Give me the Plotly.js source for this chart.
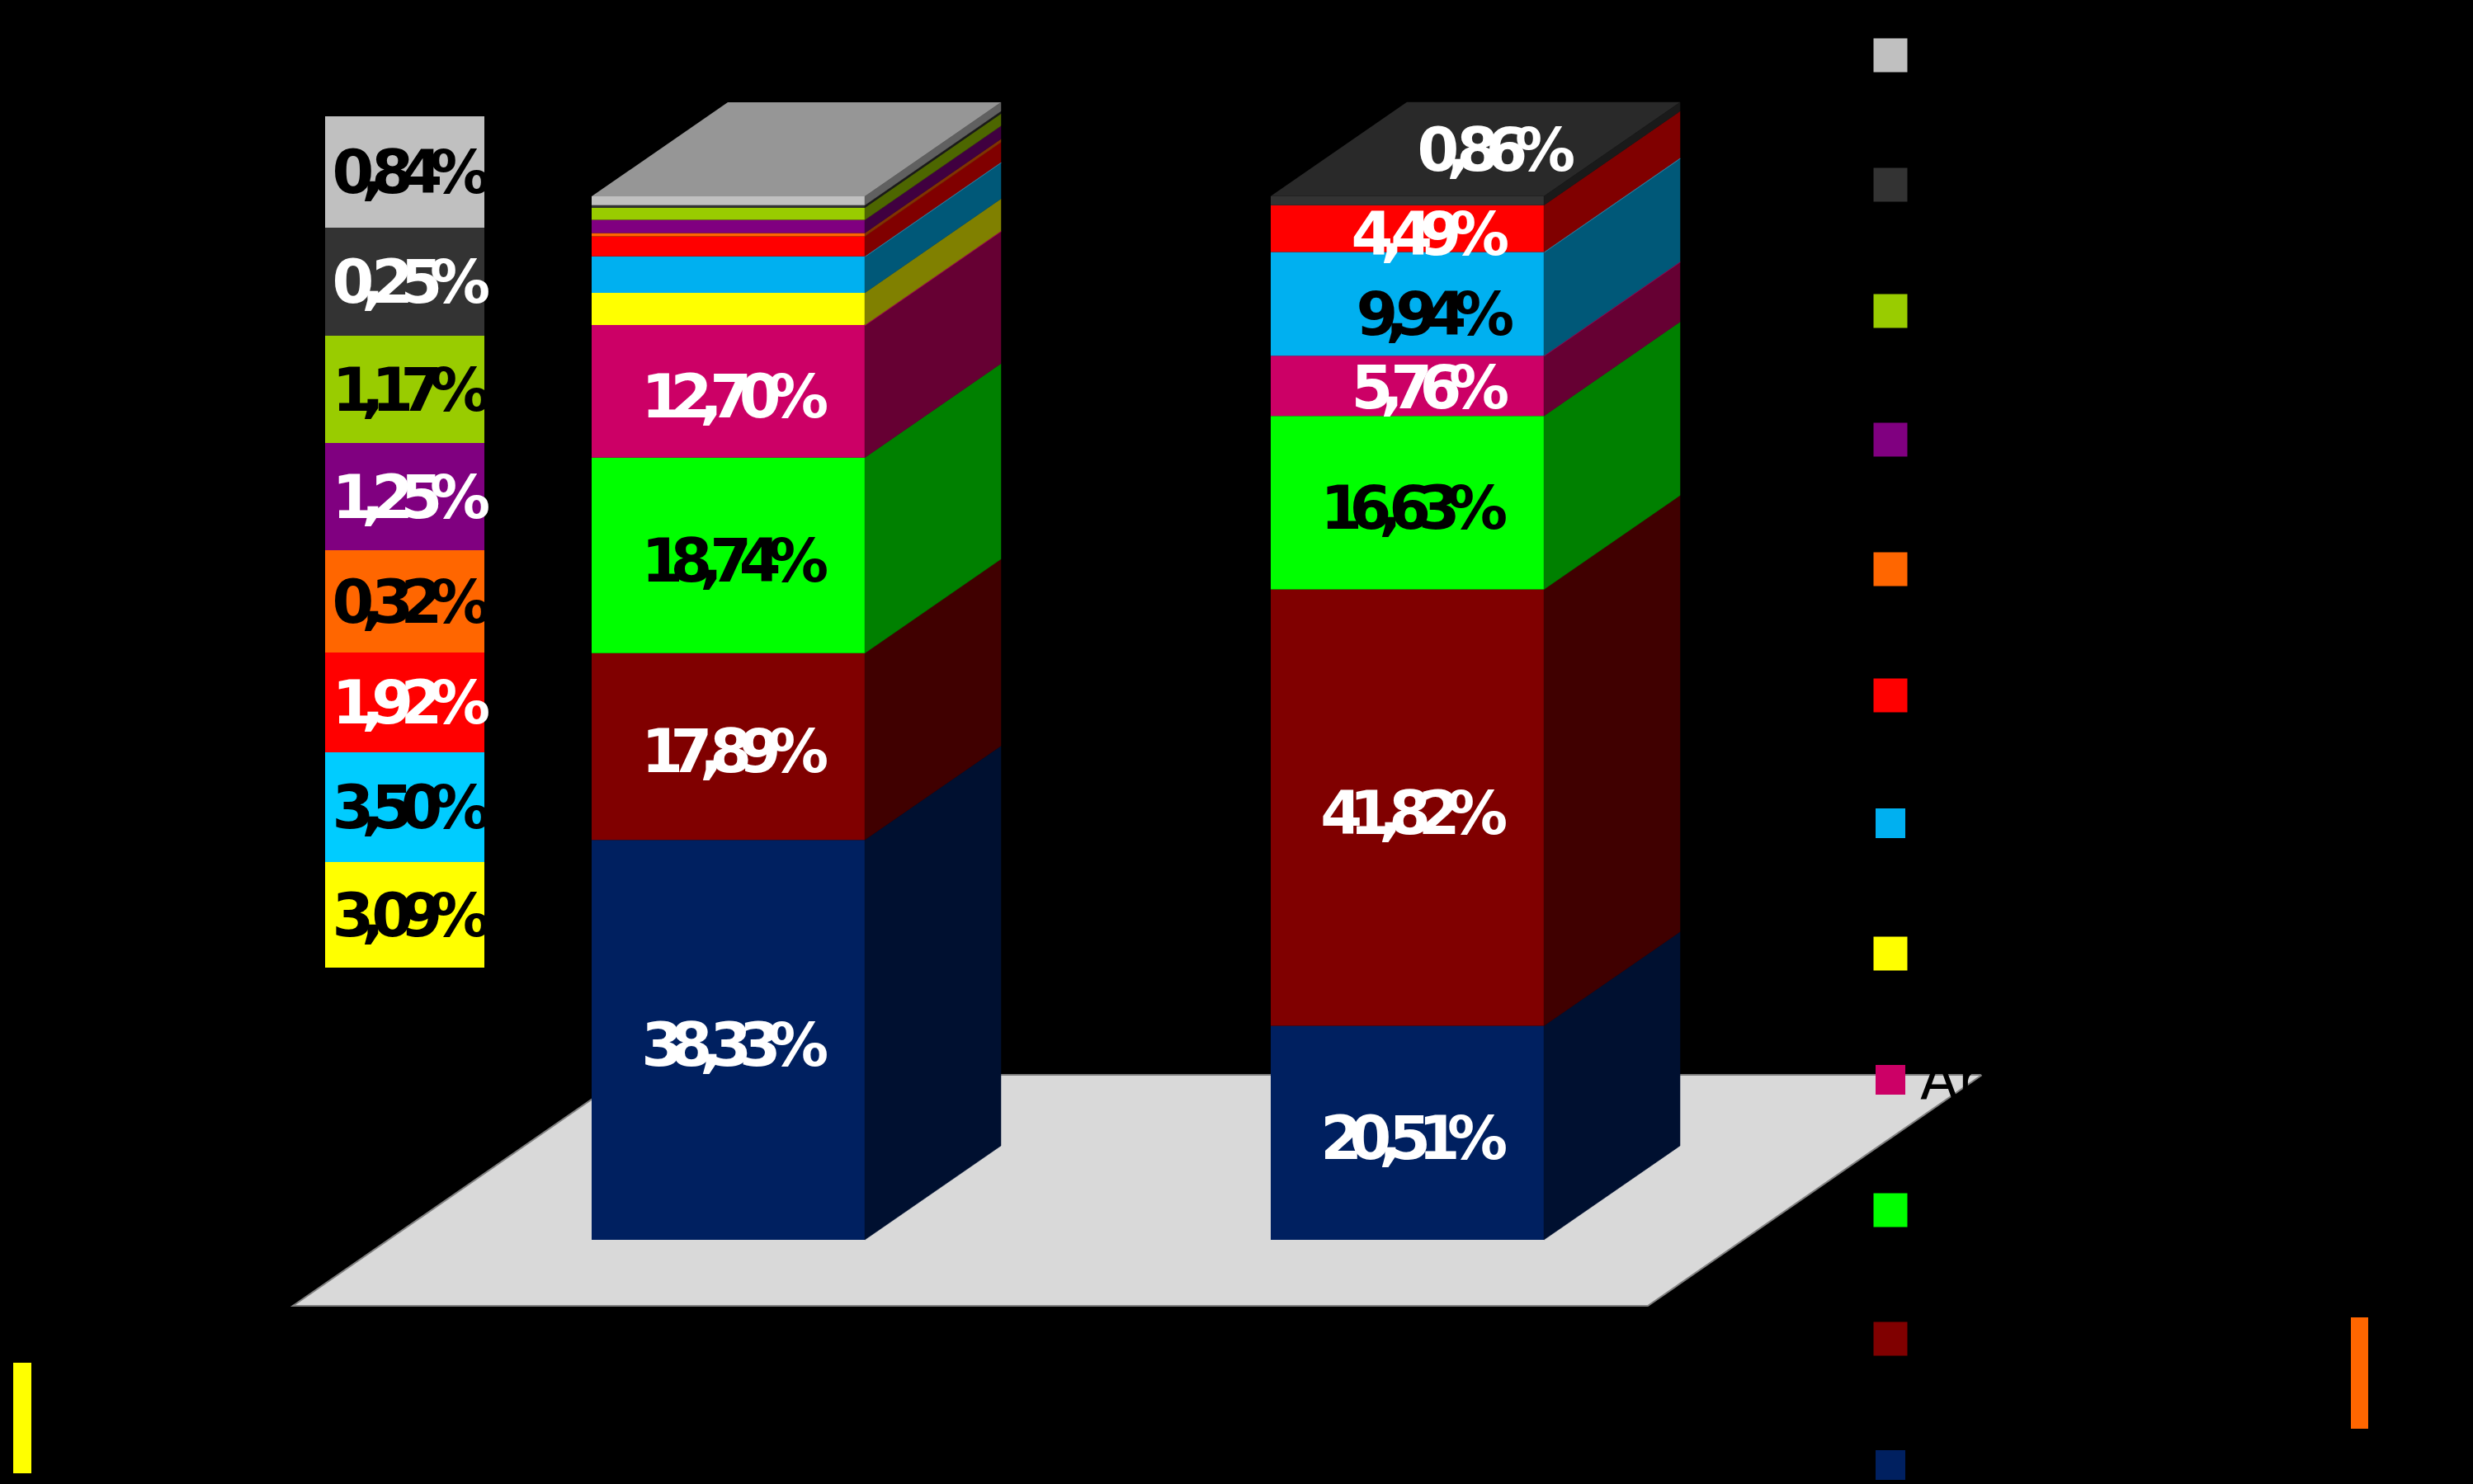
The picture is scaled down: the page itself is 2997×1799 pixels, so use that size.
<!DOCTYPE html>
<html>
<head>
<meta charset="utf-8">
<script src="https://cdn.plot.ly/plotly-3.0.1.min.js"></script>
<style>
html,body{margin:0;padding:0;background:#000;overflow:hidden}
.annotation text.annotation-text{letter-spacing:-15.4px}
</style>
</head>
<body>
<div id="chart" style="width:2997px;height:1799px"></div>
<script>
// ---------- data (bottom of the stack to the top) ----------
const barsX = [1, 2];
const bar1Values = [38.33, 17.89, 18.74, 12.70, 3.09, 3.50, 1.92, 0.32, 1.25, 1.17, 0.25, 0.84];
const bar2Values = [20.51, 41.82, 16.63, 5.76, 0, 9.94, 4.49, 0, 0, 0, 0.86, 0];
const frontColors = ['#002060','#800000','#00FF00','#CC0066','#FFFF00','#00B0F0','#FF0000','#FF6600','#800080','#99CC00','#333333','#C0C0C0'];
const sideColors  = ['#001030','#400000','#008000','#660033','#808000','#005878','#800000','#803300','#400040','#4D6600','#1A1A1A','#606060'];
const sideEdgeColors = [null,null,null,'#99004D',null,'#2A90B5',null,null,null,null,null,null];
const labelColors = ['#FFFFFF','#FFFFFF','#000000','#FFFFFF','#000000','#000000','#FFFFFF','#000000','#FFFFFF','#000000','#FFFFFF','#000000'];
// breakdown column: which series it repeats, bottom to top, and its colours
const tableSeries = [4, 5, 6, 7, 8, 9, 10, 11];
const tableColors = ['#FFFF00','#00CCFF','#FF0000','#FF6600','#800080','#99CC00','#333333','#C0C0C0'];
const tableEdgesPx = [1173, 1045, 912, 791, 667, 537, 407, 276, 141];
const legendCentersPx = [1776, 1623, 1467, 1309, 1156, 998, 843, 690, 533, 377, 224, 67];
const legendSizes = [36, 41, 41, 36, 41, 36, 41, 41, 41, 41, 41, 41];
const legendText = 'An';

// ---------- scale constants ----------
const pxPerX = 823, pxPerPct = 12.65, x0 = 1 - 882.5 / pxPerX, zeroPx = 1503;
const X = p => x0 + p / pxPerX;
const Y = p => (zeroPx - p) / pxPerPct;
const W = 2997, H = 1799;
const barWidth = 331 / pxPerX, depthX = 165 / pxPerX, depthY = 114 / pxPerPct;
const tableX = X(490.5), tableW = 193 / pxPerX;

const traces = [], annotations = [];
const font = c => ({family: 'DejaVu Sans', size: 73, weight: 700, color: c});
const label = (x, y, txt, c) => annotations.push({x, y, text: txt, showarrow: false, xanchor: 'center', yanchor: 'middle', font: font(c)});
const fmt = v => v.toFixed(2).replace('.', ',') + '%';

// cumulative bases for the two bars
const base = [[], []];
[bar1Values, bar2Values].forEach((vals, b) => {
  let s = 0;
  vals.forEach((v, i) => { base[b][i] = s; s += v; });
});

// front faces
frontColors.forEach((c, i) => {
  traces.push({type: 'bar', x: barsX, y: [bar1Values[i], bar2Values[i]], base: [base[0][i], base[1][i]],
    width: barWidth, marker: {color: c, line: {width: 0}}, hoverinfo: 'skip'});
});

// side faces, offset from the same values
[bar1Values, bar2Values].forEach((vals, b) => {
  const xr = barsX[b] + barWidth / 2;
  vals.forEach((v, i) => {
    if (!v) return;
    const y0 = base[b][i], y1 = y0 + v;
    traces.push({type: 'scatter', mode: 'lines', x: [xr, xr + depthX, xr + depthX, xr, xr],
      y: [y0, y0 + depthY, y1 + depthY, y1, y0], fill: 'toself', fillcolor: sideColors[i],
      line: {width: 0.5, color: sideColors[i]}, hoverinfo: 'skip'});
    if (sideEdgeColors[i]) {
      traces.push({type: 'scatter', mode: 'lines', x: [xr, xr + depthX], y: [y1, y1 + depthY],
        line: {width: 2, color: sideEdgeColors[i]}, hoverinfo: 'skip'});
    }
  });
  // top face
  const total = vals.reduce((a, v) => a + v, 0);
  const xl = barsX[b] - barWidth / 2;
  traces.push({type: 'scatter', mode: 'lines', x: [xl, xr, xr + depthX, xl + depthX, xl],
    y: [total, total, total + depthY, total + depthY, total], fill: 'toself',
    fillcolor: b === 0 ? '#969696' : '#292929', line: {width: 0}, hoverinfo: 'skip'});
});

// breakdown column
traces.push({type: 'bar', x: tableColors.map(() => tableX),
  base: tableColors.map((_, i) => Y(tableEdgesPx[i])),
  y: tableColors.map((_, i) => Y(tableEdgesPx[i + 1]) - Y(tableEdgesPx[i])),
  width: tableW, marker: {color: tableColors, line: {width: 0}}, hoverinfo: 'skip'});

// legend swatches
traces.push({type: 'scatter', mode: 'markers', x: legendCentersPx.map(() => X(2291)), y: legendCentersPx.map(Y),
  marker: {symbol: 'square', size: legendSizes, color: frontColors, opacity: 1, line: {width: 0}}, hoverinfo: 'skip'});

// labels on the bars
const labelShiftPx = 6;
bar1Values.forEach((v, i) => {
  if (i < 4) label(barsX[0], base[0][i] + v / 2 - labelShiftPx / pxPerPct, fmt(v), labelColors[i]);
});
bar2Values.forEach((v, i) => {
  if (!v) return;
  let dx = 0, dy = -labelShiftPx / pxPerPct;
  if (i === 10) { dx = 100 / pxPerX; dy = 62 / pxPerPct; }
  if (i === 6) dx = 20 / pxPerX;
  if (i === 3) { dx = 20 / pxPerX; dy = -2 / pxPerPct; }
  if (i === 5) { dx = 26 / pxPerX; dy = -12 / pxPerPct; }
  label(barsX[1] + dx, base[1][i] + v / 2 + dy, fmt(v), labelColors[i]);
});
// labels on the breakdown column
tableSeries.forEach((s, i) => {
  const yMid = (Y(tableEdgesPx[i]) + Y(tableEdgesPx[i + 1])) / 2;
  label(tableX, yMid, fmt(bar1Values[s]), labelColors[s]);
});
// the one legend word that shows, black over the floor
annotations.push({x: X(2325), y: Y(1310), text: legendText, showarrow: false, xanchor: 'left', yanchor: 'middle',
  font: {family: 'DejaVu Sans', size: 67, color: '#000000'}});

// floor and two accent strips
const floorPath = [[355,1583],[1997,1583],[2402,1303],[760,1303]].map((p, i) => (i ? 'L' : 'M') + X(p[0]) + ',' + Y(p[1])).join(' ') + ' Z';
const rect = (a, b, c, d, col) => ({type: 'rect', xref: 'x', yref: 'y', x0: X(a), x1: X(c), y0: Y(b), y1: Y(d), fillcolor: col, line: {width: 0}, layer: 'above'});

Plotly.newPlot('chart', traces, {
  width: W, height: H, margin: {l: 0, r: 0, t: 0, b: 0}, showlegend: false, barmode: 'overlay',
  paper_bgcolor: '#000000', plot_bgcolor: '#000000',
  xaxis: {range: [X(0), X(W)], visible: false, fixedrange: true},
  yaxis: {range: [Y(H), Y(0)], visible: false, fixedrange: true},
  annotations,
  shapes: [
    {type: 'path', path: floorPath, xref: 'x', yref: 'y', fillcolor: '#D9D9D9', line: {color: '#808080', width: 2}, layer: 'below'},
    rect(16, 1652, 38, 1786, '#FFFF00'),
    rect(2849, 1597, 2870, 1732, '#FF6600')
  ]
}, {displayModeBar: false, staticPlot: true});

// the legend word keeps normal glyph spacing
document.querySelectorAll('.annotation-text').forEach(t => { if (t.textContent === legendText) t.style.letterSpacing = '0'; });
</script>
</body>
</html>
